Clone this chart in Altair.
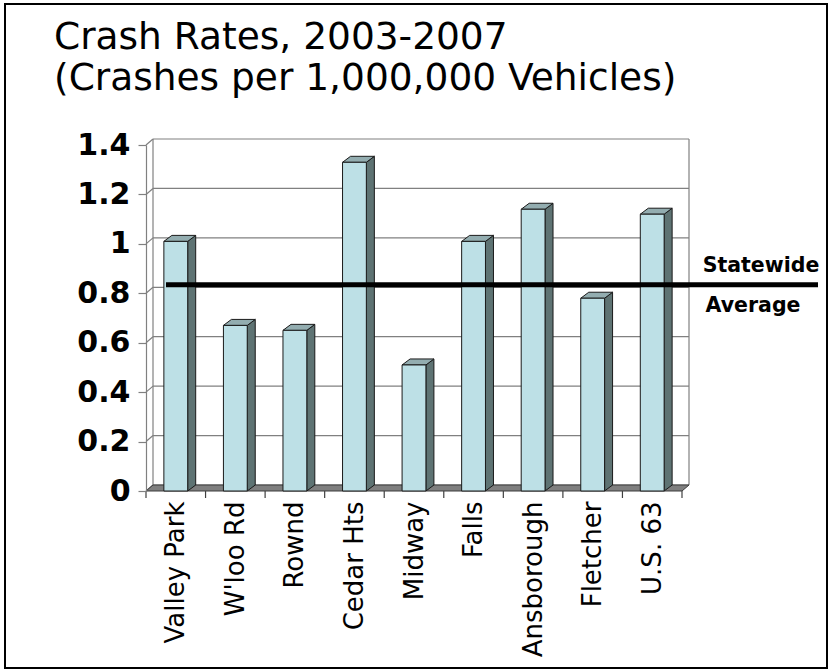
import json

import altair as alt
import pandas as pd

# ---- chart values ----
categories = ["Valley Park", "W'loo Rd", "Rownd", "Cedar Hts", "Midway",
              "Falls", "Ansborough", "Fletcher", "U.S. 63"]
crash_rates = [1.01, 0.67, 0.65, 1.33, 0.51, 1.01, 1.14, 0.78, 1.12]
y_ticks = [0, 0.2, 0.4, 0.6, 0.8, 1.0, 1.2, 1.4]
statewide_average = 0.81
title_lines = ["Crash Rates, 2003-2007", "(Crashes per 1,000,000 Vehicles)"]
avg_label = ["Statewide", "Average"]

# ---- layout / 3-D look ----
PLOT_W, PLOT_H = 536, 346
Y_MAX = 1.4
N = len(categories)
PX_X = PLOT_W / N          # pixels per category unit
PX_Y = PLOT_H / Y_MAX      # pixels per rate unit
WALL_DX, WALL_DY = 7 / PX_X, 6 / PX_Y   # depth of the back wall
BAR_DX, BAR_DY = 8 / PX_X, 6 / PX_Y     # depth of each column
BAR_HALF = 0.2                          # half column width (category units)

FRONT = "#BDE0E6"
SIDE = "#5E7373"
TOPC = "#93ADB0"
FLOOR = "#7F7F7F"
GRID = "#808080"
FONT = "DejaVu Sans"

X_SCALE = alt.Scale(domain=[0, N], nice=False, zero=False)
Y_SCALE = alt.Scale(domain=[0, Y_MAX], nice=False, zero=True)

# ---- tables built from the values ----
bars = pd.DataFrame({"category": categories, "rate": crash_rates})
bars["left"] = [i + 0.5 - BAR_HALF for i in range(N)]
bars["right"] = [i + 0.5 + BAR_HALF for i in range(N)]
bars["zero"] = 0.0

side = pd.concat([
    pd.DataFrame({"category": categories, "x": bars["right"],
                  "top": bars["rate"], "base": 0.0}),
    pd.DataFrame({"category": categories, "x": bars["right"] + BAR_DX,
                  "top": bars["rate"] + BAR_DY, "base": BAR_DY}),
], ignore_index=True)

top = pd.concat([
    pd.DataFrame({"category": categories, "y": bars["rate"],
                  "xl": bars["left"], "xr": bars["right"]}),
    pd.DataFrame({"category": categories, "y": bars["rate"] + BAR_DY,
                  "xl": bars["left"] + BAR_DX, "xr": bars["right"] + BAR_DX}),
], ignore_index=True)

grid = pd.DataFrame({"v": y_ticks})
grid["v_back"] = grid["v"] + WALL_DY
grid["x_front"] = 0.0
grid["x_back"] = WALL_DX
grid["x_end"] = N + WALL_DX

wall_edges = pd.DataFrame({"x": [WALL_DX, N + WALL_DX],
                           "y": [WALL_DY, WALL_DY],
                           "y2": [Y_MAX + WALL_DY, Y_MAX + WALL_DY]})

floor = pd.DataFrame({"y": [0.0, WALL_DY], "xl": [0.0, WALL_DX],
                      "xr": [float(N), N + WALL_DX]})

ticks = pd.DataFrame({"x": [float(k) for k in range(N + 1)]})

avg_df = pd.DataFrame({"avg": [statewide_average + WALL_DY]})
one = pd.DataFrame({"k": [0]})

NOX = dict(scale=X_SCALE, axis=None)
NOY = dict(scale=Y_SCALE, axis=None)

# front axes (category labels at column centres, rate labels on the left)
label_expr = json.dumps(categories) + "[floor(datum.value)]"
axes_layer = alt.Chart(bars).mark_point(opacity=0).encode(
    x=alt.X("left:Q", scale=X_SCALE, title=None, axis=alt.Axis(
        values=[i + 0.5 for i in range(N)], labelExpr=label_expr,
        labelAngle=-90, labelFont=FONT, labelFontSize=26, labelColor="black",
        labelPadding=10, ticks=False, domain=False, grid=False,
        labelFlush=False, labelOverlap=False, title=None, zindex=1)),
    y=alt.Y("rate:Q", scale=Y_SCALE, title=None, axis=alt.Axis(
        values=y_ticks, format=".1~f", labelFont=FONT, labelFontSize=30,
        labelFontWeight="bold", labelColor="black", labelPadding=8,
        tickSize=8, tickColor=GRID, tickWidth=1.2, domainColor=GRID,
        domainWidth=1.2, grid=False, labelOverlap=False, title=None,
        zindex=1)),
)

# back wall gridlines and edges
back_grid = alt.Chart(grid).mark_rule(color=GRID, strokeWidth=1.2).encode(
    x=alt.X("x_back:Q", **NOX), x2="x_end:Q",
    y=alt.Y("v_back:Q", **NOY),
)
side_grid = alt.Chart(grid).mark_rule(color=GRID, strokeWidth=1.2).encode(
    x=alt.X("x_front:Q", **NOX), x2="x_back:Q",
    y=alt.Y("v:Q", **NOY), y2="v_back:Q",
)
edges = alt.Chart(wall_edges).mark_rule(color=GRID, strokeWidth=1.2).encode(
    x=alt.X("x:Q", **NOX), y=alt.Y("y:Q", **NOY), y2="y2:Q",
)
floor_layer = alt.Chart(floor).mark_area(
    orient="horizontal", color=FLOOR, stroke="#3C3C3C", strokeWidth=1
).encode(
    y=alt.Y("y:Q", **NOY), x=alt.X("xl:Q", **NOX), x2="xr:Q",
)
tick_layer = alt.Chart(ticks).mark_rule(color="#404040", strokeWidth=1.2).encode(
    x=alt.X("x:Q", **NOX),
    y=alt.value(PLOT_H), y2=alt.value(PLOT_H + 7),
)

# columns: side face, top face, front face
side_layer = alt.Chart(side).mark_area(
    orient="vertical", color=SIDE, stroke="#1A1A1A", strokeWidth=1
).encode(
    x=alt.X("x:Q", **NOX), y=alt.Y("top:Q", **NOY), y2="base:Q",
    detail="category:N",
)
top_layer = alt.Chart(top).mark_area(
    orient="horizontal", color=TOPC, stroke="#1A1A1A", strokeWidth=1
).encode(
    y=alt.Y("y:Q", **NOY), x=alt.X("xl:Q", **NOX), x2="xr:Q",
    detail="category:N",
)
front_layer = alt.Chart(bars).mark_rect(
    color=FRONT, stroke="#1A1A1A", strokeWidth=1
).encode(
    x=alt.X("left:Q", **NOX), x2="right:Q",
    y=alt.Y("rate:Q", **NOY), y2="zero:Q",
)

# statewide average line and its label
avg_line = alt.Chart(avg_df).mark_rule(color="black", strokeWidth=5).encode(
    y=alt.Y("avg:Q", **NOY), x=alt.value(20), x2=alt.value(672),
)
avg_text1 = alt.Chart(one).mark_text(
    text=avg_label[0], font=FONT, fontSize=20.5, fontWeight="bold",
    align="center", baseline="alphabetic", color="black"
).encode(x=alt.value(615), y=alt.value(126.7))
avg_text2 = alt.Chart(one).mark_text(
    text=avg_label[1], font=FONT, fontSize=20.5, fontWeight="bold",
    align="center", baseline="alphabetic", color="black"
).encode(x=alt.value(607), y=alt.value(166.7))

# two-line heading
title1 = alt.Chart(one).mark_text(
    text=title_lines[0], font=FONT, fontSize=37.5, align="left",
    baseline="alphabetic", color="black"
).encode(x=alt.value(-92), y=alt.value(-96.5))
title2 = alt.Chart(one).mark_text(
    text=title_lines[1], font=FONT, fontSize=37.5, align="left",
    baseline="alphabetic", color="black"
).encode(x=alt.value(-92), y=alt.value(-55))

# outer frame
frame = alt.Chart(one).mark_rect(
    filled=False, stroke="black", strokeWidth=2
).encode(
    x=alt.value(5 - 146), x2=alt.value(827 - 146),
    y=alt.value(4 - 145), y2=alt.value(668 - 145),
)

chart = alt.layer(
    axes_layer, back_grid, side_grid, edges, floor_layer, tick_layer,
    side_layer, top_layer, front_layer,
    avg_line, avg_text1, avg_text2, title1, title2, frame,
).resolve_axis(x="independent", y="independent").properties(
    width=PLOT_W, height=PLOT_H,
    padding={"left": 146, "top": 145, "right": 150, "bottom": 181},
    autosize=alt.AutoSizeParams(type="none"),
    background="white",
).configure_view(stroke=None)

chart.save("out.html", embed_options={"renderer": "svg", "actions": False})
